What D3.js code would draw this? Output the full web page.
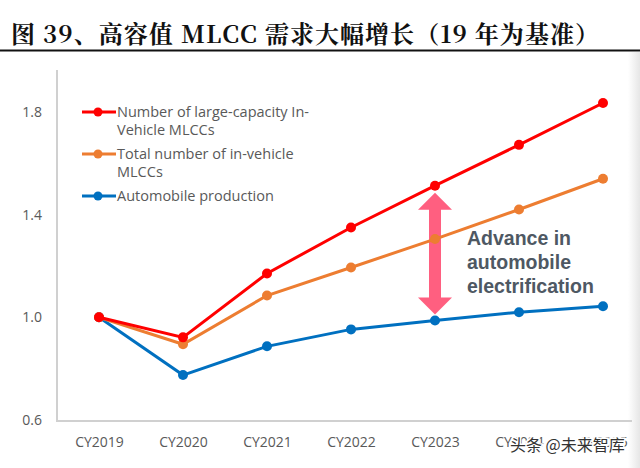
<!DOCTYPE html>
<html><head><meta charset="utf-8">
<script src="https://cdn.jsdelivr.net/npm/d3@7"></script>
<style>body{margin:0;background:#fff;}svg{display:block;}</style>
</head><body>
<svg id="c" width="640" height="468"></svg>
<script>
const categories = ["CY2019","CY2020","CY2021","CY2022","CY2023","CY2024","CY2025"];
const seriesNames = ["Number of large-capacity In-Vehicle MLCCs","Total number of in-vehicle MLCCs","Automobile production"];
const largeCap = [1.0, 0.922, 1.171, 1.35, 1.513, 1.672, 1.835];
const totalMlcc = [1.0, 0.895, 1.085, 1.194, 1.305, 1.42, 1.54];
const autoProd = [1.0, 0.775, 0.887, 0.953, 0.988, 1.02, 1.043];
const yTicks = [0.6, 1.0, 1.4, 1.8];
const colors = ["#ff0000","#ed7d31","#0070c0"];

(function(){
const svg = d3.select("#c");
const defs = svg.append("defs");
const g1 = defs.append("linearGradient").attr("id","edge").attr("x1","0").attr("x2","1");
g1.append("stop").attr("offset","0").attr("stop-color","#fff");
g1.append("stop").attr("offset","1").attr("stop-color","#e6e6e6");
svg.append("rect").attr("x",628).attr("y",52).attr("width",12).attr("height",416).attr("fill","url(#edge)");

svg.append("text").attr("x",11).attr("y",43)
  .attr("font-family","'Noto Serif CJK SC','Liberation Serif','Noto Sans CJK SC',serif").attr("font-weight","bold")
  .attr("font-size",24).attr("fill","#111")
  .attr("textLength",588).attr("lengthAdjust","spacing")
  .text("图 39、高容值 MLCC 需求大幅增长（19 年为基准）");
svg.append("line").attr("x1",0).attr("x2",640).attr("y1",50.5).attr("y2",50.5).attr("stroke","#111").attr("stroke-width",2);

const x = d3.scalePoint().domain(categories).range([99,603]);
const y = d3.scaleLinear().domain([0.6,1.8]).range([420,112]);

const yAxis = svg.append("g").attr("transform","translate(57,0)")
  .call(d3.axisLeft(y).tickValues(yTicks).tickFormat(d3.format(".1f")).tickSize(0).tickPadding(15));
yAxis.select(".domain").remove();
svg.append("line").attr("x1",57).attr("x2",57).attr("y1",70).attr("y2",421).attr("stroke","#d0d0d0").attr("stroke-width",2);
svg.append("line").attr("x1",56).attr("x2",632).attr("y1",421).attr("y2",421).attr("stroke","#d0d0d0").attr("stroke-width",2);
const xAxis = svg.append("g").attr("transform","translate(0,421)")
  .call(d3.axisBottom(x).tickSize(0).tickPadding(16));
xAxis.select(".domain").remove();
svg.selectAll(".tick text").attr("font-family","'Open Sans','Noto Sans',sans-serif").attr("font-size",14).attr("fill","#595959");

const ax = x("CY2023");
const aTop = y(largeCap[4]) + 7, aBot = y(autoProd[4]) - 6;
const hw = 17, hh = 17, sw = 6;
svg.append("path").attr("fill","#ff5f80")
  .attr("d",`M${ax},${aTop} L${ax+hw},${aTop+hh} L${ax+sw},${aTop+hh} L${ax+sw},${aBot-hh} L${ax+hw},${aBot-hh} L${ax},${aBot} L${ax-hw},${aBot-hh} L${ax-sw},${aBot-hh} L${ax-sw},${aTop+hh} L${ax-hw},${aTop+hh} Z`);

const series = [largeCap,totalMlcc,autoProd];
const line = d3.line().x((d,i)=>x(categories[i])).y(d=>y(d));
[2,1,0].forEach(k=>{
  svg.append("path").datum(series[k]).attr("d",line).attr("fill","none")
    .attr("stroke",colors[k]).attr("stroke-width",3);
  svg.selectAll(null).data(series[k]).enter().append("circle")
    .attr("cx",(d,i)=>x(categories[i])).attr("cy",d=>y(d)).attr("r",5).attr("fill",colors[k]);
});

const ann = ["Advance in","automobile","electrification"];
svg.append("g").selectAll("text").data(ann).enter().append("text")
  .attr("x",467).attr("y",(d,i)=>245+i*24)
  .attr("font-family","'Liberation Sans',Arial,sans-serif").attr("font-weight","bold")
  .attr("font-size",19.5).attr("fill","#4e5863").text(d=>d);

const legRows = [
  {k:0, lines:["Number of large-capacity In-","Vehicle MLCCs"], y:112},
  {k:1, lines:["Total number of in-vehicle","MLCCs"], y:154},
  {k:2, lines:["Automobile production"], y:196}
];
legRows.forEach(r=>{
  svg.append("line").attr("x1",82).attr("x2",116).attr("y1",r.y).attr("y2",r.y).attr("stroke",colors[r.k]).attr("stroke-width",3);
  svg.append("circle").attr("cx",98).attr("cy",r.y).attr("r",4.5).attr("fill",colors[r.k]);
  r.lines.forEach((t,i)=>{
    svg.append("text").attr("x",117).attr("y",r.y+5+i*18)
      .attr("font-family","'Open Sans','Noto Sans',sans-serif").attr("font-size",14.5).attr("fill","#595959").text(t);
  });
});

svg.append("text").attr("x",510).attr("y",451)
  .attr("font-family","'Noto Sans CJK SC',sans-serif").attr("font-size",16)
  .attr("fill","#333").attr("stroke","#fff").attr("stroke-width",3).attr("paint-order","stroke")
  .text("头条 @未来智库");
})();
</script>
</body></html>
